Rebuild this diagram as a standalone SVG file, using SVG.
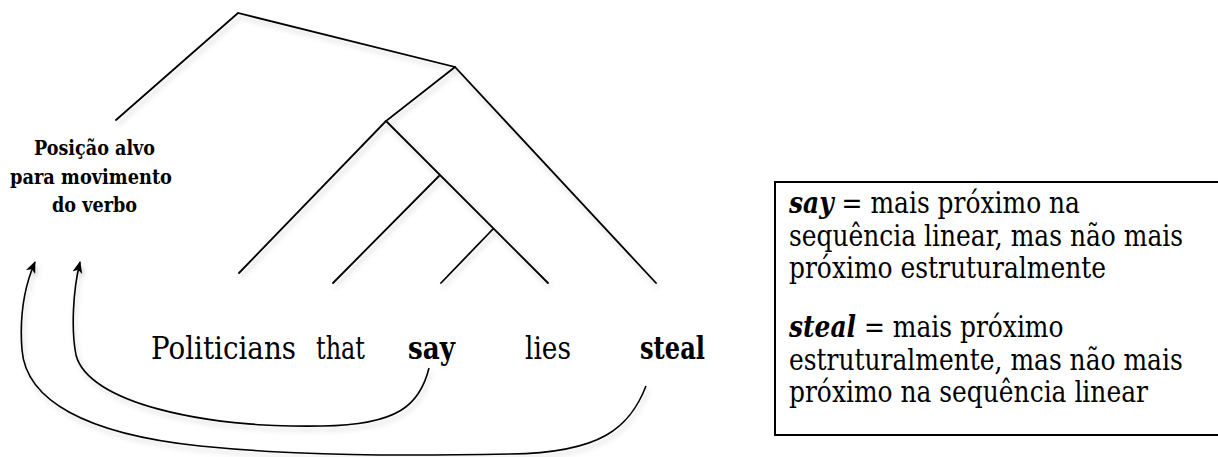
<svg xmlns="http://www.w3.org/2000/svg" width="1218" height="457" viewBox="0 0 1218 457">
<style>
.ln{stroke:#000;stroke-width:1.8;fill:none;stroke-linecap:round}
.cv{stroke:#000;stroke-width:1.6;fill:none}
text{font-family:'DejaVu Serif','Liberation Serif',serif;fill:#000}
.w{font-size:31px}
.lb{font-size:21px;font-weight:bold}
.bx{font-size:29px}
.bi{font-weight:bold;font-style:italic}
</style>
<defs>
<filter id="sh" x="-10%" y="-10%" width="120%" height="130%">
<feDropShadow dx="2" dy="4" stdDeviation="2.5" flood-color="#000" flood-opacity="0.18"/>
</filter>
<marker id="ah" viewBox="0 0 12 10" refX="11" refY="5" markerWidth="12" markerHeight="10" markerUnits="userSpaceOnUse" orient="auto">
<path d="M0,0 L12,5 L0,10 L3,5 Z" fill="#000"/>
</marker>
</defs>
<rect width="1218" height="457" fill="#fff"/>
<g id="tree" filter="url(#sh)">
<path class="ln" d="M116 120 L238 13 L455 67 L656 283"/>
<path class="ln" d="M455 67 L386 121 L548 283"/>
<path class="ln" d="M386 121 L239 273"/>
<path class="ln" d="M439 176 L333 283"/>
<path class="ln" d="M493 229 L441 283"/>
</g>
<g id="label-target">
<text class="lb" x="34" y="155" textLength="121" lengthAdjust="spacingAndGlyphs">Posição alvo</text>
<text class="lb" x="10" y="184" textLength="162" lengthAdjust="spacingAndGlyphs">para movimento</text>
<text class="lb" x="52" y="212" textLength="85" lengthAdjust="spacingAndGlyphs">do verbo</text>
</g>
<g id="sentence">
<text class="w" x="151" y="359" textLength="145" lengthAdjust="spacingAndGlyphs">Politicians</text>
<text class="w" x="316" y="359" textLength="49" lengthAdjust="spacingAndGlyphs">that</text>
<text class="w" x="408" y="359" font-weight="bold" textLength="47" lengthAdjust="spacingAndGlyphs">say</text>
<text class="w" x="525" y="359" textLength="46" lengthAdjust="spacingAndGlyphs">lies</text>
<text class="w" x="640" y="359" font-weight="bold" textLength="65" lengthAdjust="spacingAndGlyphs">steal</text>
</g>
<g id="connectors" filter="url(#sh)">
<path class="cv" marker-end="url(#ah)" d="M429 368 C420 405 398 425 322 426 C200 428 88 402 76 355 C71 330 73 290 80 262"/>
<path class="cv" marker-end="url(#ah)" d="M646 386 C630 427 602 453 510 454 C400 456 300 456 200 446 C85 434 26 400 22 350 C19 312 25 285 35 262"/>
</g>
<g id="note">
<rect x="775" y="182" width="460" height="253" fill="none" stroke="#000" stroke-width="2"/>
<g transform="translate(789 0) scale(0.86 1)">
<text class="bx" x="0" y="213"><tspan class="bi">say</tspan> = mais próximo na</text>
<text class="bx" x="0" y="246">sequência linear, mas não mais</text>
<text class="bx" x="0" y="278">próximo estruturalmente</text>
<text class="bx" x="0" y="337"><tspan class="bi">steal</tspan> = mais próximo</text>
<text class="bx" x="0" y="370">estruturalmente, mas não mais</text>
<text class="bx" x="0" y="402">próximo na sequência linear</text>
</g>
</g>
</svg>
